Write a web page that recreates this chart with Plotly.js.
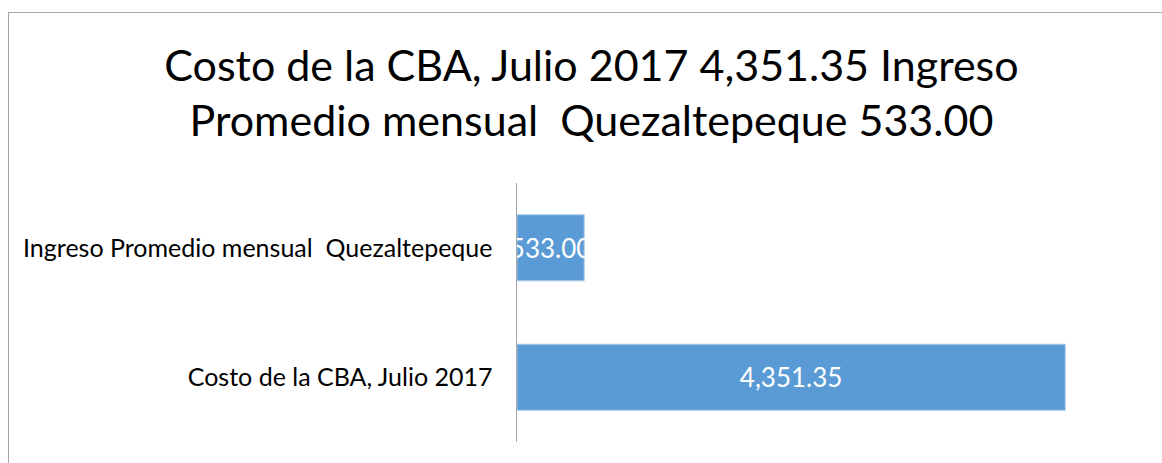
<!DOCTYPE html>
<html>
<head>
<meta charset="utf-8">
<script src="https://cdn.plot.ly/plotly-3.0.1.min.js"></script>
<style>
  html, body { margin: 0; padding: 0; background: #fff; }
  #frame { position: absolute; left: 8px; top: 12px; width: 1154px; height: 451px;
           border-left: 1.5px solid #a6a6a6; border-top: 1.5px solid #a6a6a6; }
  #chart { position: absolute; left: 0; top: 0; width: 1162px; height: 463px; }
</style>
</head>
<body>
<div id="frame"></div>
<div id="chart"></div>
<script>
const categories = ["Costo de la CBA, Julio 2017", "Ingreso Promedio mensual  Quezaltepeque"];
const values = [4351.35, 533.00];
const valueLabels = ["4,351.35", "533.00"];
const titleText = "Costo de la CBA, Julio 2017 4,351.35 Ingreso<br>Promedio mensual  Quezaltepeque 533.00";

const FONT = "Lato, 'Open Sans', sans-serif";

const trace = {
  type: "bar",
  orientation: "h",
  y: categories,
  x: values,
  text: valueLabels,
  textposition: "inside",
  insidetextanchor: "middle",
  constraintext: "none",
  textangle: 0,
  textfont: { family: FONT, size: 26, color: "#ffffff" },
  marker: { color: "#5b9bd5", line: { color: "#a9c9ea", width: 1 } },
  width: 0.51,
  hoverinfo: "none",
  cliponaxis: false
};

const layout = {
  width: 1162,
  height: 463,
  paper_bgcolor: "rgba(0,0,0,0)",
  plot_bgcolor: "rgba(0,0,0,0)",
  margin: { l: 517, r: 15, t: 183, b: 21 },
  showlegend: false,
  title: {
    text: titleText,
    font: { family: FONT, size: 43, color: "#000000" },
    x: 0.509, xanchor: "center",
    y: 0.826, yanchor: "top", yref: "container"
  },
  xaxis: {
    range: [0, 5000],
    visible: false,
    showgrid: false,
    zeroline: false
  },
  yaxis: {
    type: "category",
    range: [-0.5, 1.5],
    showline: true,
    linecolor: "#a6a6a6",
    linewidth: 1.5,
    ticks: "",
    ticklabelstandoff: 18,
    tickfont: { family: FONT, size: 25, color: "#000000" },
    showgrid: false,
    zeroline: false
  }
};

Plotly.newPlot("chart", [trace], layout, { displayModeBar: false, staticPlot: true });
</script>
</body>
</html>
